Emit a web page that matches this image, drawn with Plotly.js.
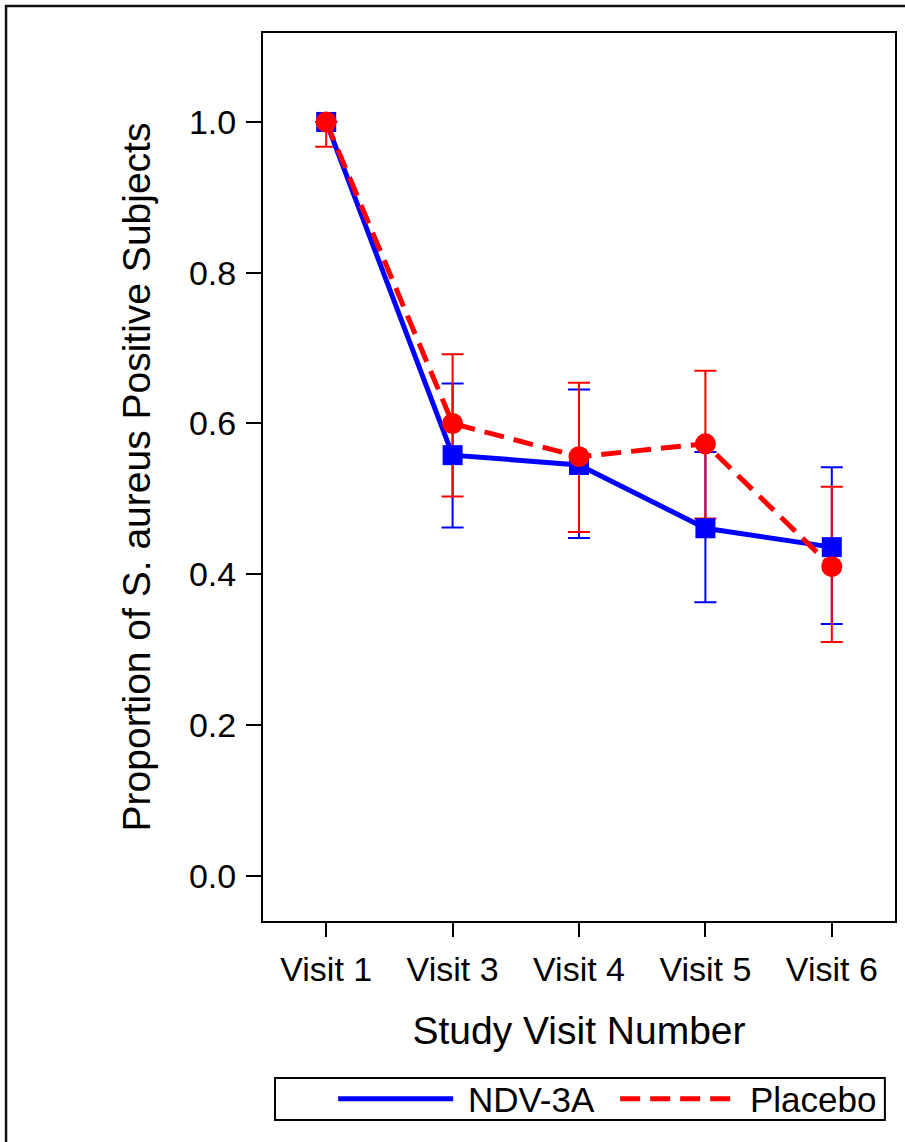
<!DOCTYPE html>
<html>
<head>
<meta charset="utf-8">
<script src="https://cdn.plot.ly/plotly-3.0.1.min.js"></script>
<style>
  html, body { margin: 0; padding: 0; background: #fff; }
  #chart { width: 905px; height: 1142px; }
</style>
</head>
<body>
<div id="chart"></div>
<script>
var visits = ['Visit 1', 'Visit 3', 'Visit 4', 'Visit 5', 'Visit 6'];
var ndv = [1.0, 0.558, 0.545, 0.461, 0.436];
var ndvUpper = [1.0, 0.653, 0.645, 0.562, 0.542];
var ndvLower = [1.0, 0.462, 0.448, 0.363, 0.334];
var placebo = [1.0, 0.600, 0.556, 0.573, 0.410];
var placeboUpper = [1.0, 0.692, 0.654, 0.670, 0.516];
var placeboLower = [0.967, 0.503, 0.456, 0.474, 0.310];
var seriesNames = ['NDV-3A', 'Placebo'];
var yTicks = [0.0, 0.2, 0.4, 0.6, 0.8, 1.0];
var yTickText = ['0.0', '0.2', '0.4', '0.6', '0.8', '1.0'];

var BLUE = '#0000FF', RED = '#FF0000';
function diff(a, b) { return a.map(function (v, i) { return v - b[i]; }); }

var font = 'Liberation Sans, Arial, sans-serif';

var traces = [
  { x: visits, y: ndv, type: 'scatter', mode: 'markers', showlegend: false, hoverinfo: 'skip',
    marker: { size: 1, opacity: 0, color: BLUE },
    error_y: { type: 'data', symmetric: false, array: diff(ndvUpper, ndv), arrayminus: diff(ndv, ndvLower),
               color: BLUE, thickness: 2, width: 11 } },
  { x: visits, y: placebo, type: 'scatter', mode: 'markers', showlegend: false, hoverinfo: 'skip',
    marker: { size: 1, opacity: 0, color: RED },
    error_y: { type: 'data', symmetric: false, array: diff(placeboUpper, placebo), arrayminus: diff(placebo, placeboLower),
               color: RED, thickness: 2, width: 11 } },
  { x: visits, y: ndv, type: 'scatter', mode: 'lines', name: ' ' + seriesNames[0],
    line: { color: BLUE, width: 5 } },
  { x: visits, y: ndv, type: 'scatter', mode: 'markers', showlegend: false,
    marker: { symbol: 'square', size: 20, color: BLUE } },
  { x: visits, y: placebo, type: 'scatter', mode: 'lines', name: ' ' + seriesNames[1],
    line: { color: RED, width: 5, dash: '20px,10px' } },
  { x: visits, y: placebo, type: 'scatter', mode: 'markers', showlegend: false,
    marker: { symbol: 'circle', size: 21, color: RED } }
];

var layout = {
  width: 905, height: 1142,
  margin: { l: 263, r: 10, t: 33, b: 221, autoexpand: false },
  paper_bgcolor: '#fff', plot_bgcolor: '#fff',
  font: { family: font, color: '#000', size: 34 },
  xaxis: {
    type: 'category', range: [-0.5, 4.5],
    showline: true, mirror: true, linecolor: '#000', linewidth: 2,
    ticks: 'outside', ticklen: 14, tickwidth: 2, tickcolor: '#000',
    tickfont: { size: 34, family: font }, showgrid: false, zeroline: false,
    ticklabelstandoff: 3,
    title: { text: 'Study Visit Number', font: { size: 39, family: font }, standoff: 30 }
  },
  yaxis: {
    range: [-0.06, 1.118], tickvals: yTicks, ticktext: yTickText,
    showline: true, mirror: true, linecolor: '#000', linewidth: 2,
    ticks: 'outside', ticklen: 15, tickwidth: 2, tickcolor: '#000',
    tickfont: { size: 34, family: font }, showgrid: false, zeroline: false,
    ticklabelstandoff: 3,
    title: { text: 'Proportion of S. aureus Positive Subjects', font: { size: 39, family: font }, standoff: 26 }
  },
  showlegend: true,
  legend: {
    orientation: 'h', x: 0.111, xanchor: 'left', y: -0.2005, yanchor: 'middle',
    borderwidth: 0, bgcolor: 'rgba(0,0,0,0)',
    font: { size: 35, family: font }, itemwidth: 115, entrywidth: 152, traceorder: 'normal'
  },
  shapes: [
    { type: 'rect', xref: 'paper', yref: 'paper', x0: -0.4066, x1: 1.03, y0: -0.27, y1: 1.0304,
      line: { color: '#111', width: 2.5 }, fillcolor: 'rgba(0,0,0,0)', layer: 'below' },
    { type: 'rect', xref: 'paper', yref: 'paper', x0: 0.019, x1: 0.984, y0: -0.2241, y1: -0.1768,
      line: { color: '#000', width: 2 }, fillcolor: 'rgba(0,0,0,0)', layer: 'below' }
  ]
};

Plotly.newPlot('chart', traces, layout, { staticPlot: true, displayModeBar: false });
</script>
</body>
</html>
